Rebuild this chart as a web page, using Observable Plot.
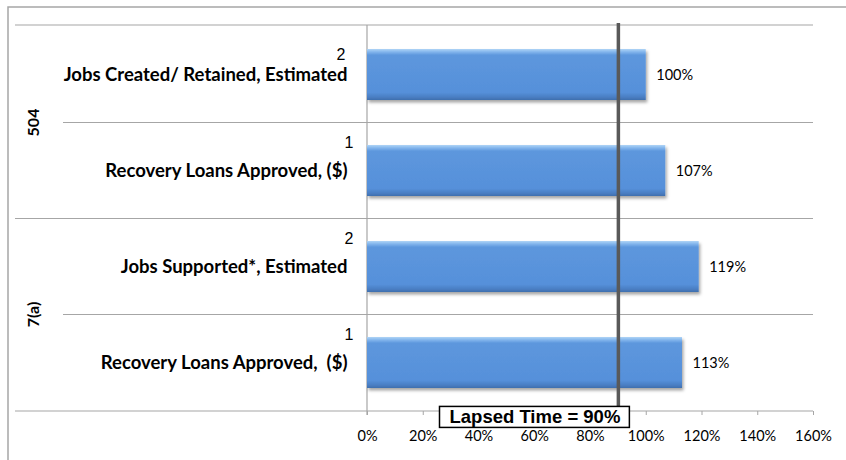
<!DOCTYPE html>
<html><head><meta charset="utf-8">
<script src="https://cdn.jsdelivr.net/npm/d3@7"></script>
<script src="https://cdn.jsdelivr.net/npm/@observablehq/plot@0.6"></script>
<style>body{margin:0;background:#fff} svg{display:block}</style>
</head><body><div id="chart"></div>
<script>
// ---- data ----
const rowIds = ["504-2", "504-1", "7a-2", "7a-1"];
const groups = ["504", "504", "7(a)", "7(a)"];
const groupNames = ["504", "7(a)"];
const labels = ["Jobs Created/ Retained, Estimated", "Recovery Loans Approved, ($)", "Jobs Supported*, Estimated", "Recovery Loans Approved,  ($)"];
const notes = ["2", "1", "2", "1"];
const values = [1.00, 1.07, 1.19, 1.13];
const lapsedTime = 0.90;
const lapsedLabel = "Lapsed Time = 90%";
const xTicks = [0, 0.2, 0.4, 0.6, 0.8, 1.0, 1.2, 1.4, 1.6];

const rows = rowIds.map((id, i) => ({id, group: groups[i], label: labels[i], note: notes[i], value: values[i]}));
const pct = d3.format(".0%");
const gridColor = "#a6a6a6";

function chrome(index, scales, vals, dim) {
  const y = scales.y;
  const bw = y.bandwidth(), step = y.step();
  const left = dim.marginLeft, right = dim.width - dim.marginRight;
  const top = dim.marginTop, bottom = dim.height - dim.marginBottom;
  const g = d3.create("svg:g");
  // outer frame
  g.append("path").attr("d", `M8,${dim.height}V7H${dim.width}`).attr("fill", "none").attr("stroke", gridColor).attr("stroke-width", 1.5);
  const line = (x1, yy) => g.append("line").attr("x1", x1).attr("x2", right).attr("y1", yy).attr("y2", yy).attr("stroke", gridColor).attr("stroke-width", 1.2);
  line(15, top);
  line(15, bottom);
  rows.forEach((r, i) => {
    if (i === rows.length - 1) return;
    const yb = y(r.id) + bw / 2 + step / 2;
    line(rows[i + 1].group !== r.group ? 15 : 63, yb);
  });
  // value axis line
  g.append("line").attr("x1", left).attr("x2", left).attr("y1", top).attr("y2", bottom + 4).attr("stroke", gridColor).attr("stroke-width", 1.2);
  // group labels
  groupNames.forEach(name => {
    const cs = rows.filter(r => r.group === name).map(r => y(r.id) + bw / 2);
    const cy = d3.mean(cs);
    g.append("text").attr("transform", `translate(33,${cy}) rotate(-90)`)
      .attr("text-anchor", "middle").attr("dy", "0.35em")
      .attr("font-weight", "bold").attr("font-size", 16).attr("fill", "#000")
      .text(name);
  });
  return g.node();
}

const plot = Plot.plot({
  width: 846, height: 460,
  marginLeft: 367, marginRight: 33, marginTop: 25, marginBottom: 49,
  style: {fontFamily: "Lato, sans-serif", fontSize: "14.5px", color: "#000", background: "#fff"},
  x: {domain: [0, 1.6], ticks: xTicks, tickFormat: pct, tickSize: 4, tickPadding: 15, label: null},
  y: {domain: rowIds, paddingInner: 0.47, paddingOuter: 0.235, axis: null},
  marks: [
    chrome,
    Plot.barX(rows, {x: "value", y: "id", fill: "url(#barGrad)"}),
    Plot.text(rows, {x: "value", y: "id", text: d => pct(d.value), textAnchor: "start", dx: 10, fontSize: 14.5, fill: "#000"}),
    Plot.text(rows, {y: "id", text: "label", frameAnchor: "left", textAnchor: "end", dx: -20, fontWeight: "bold", fontSize: 18.5, fill: "#000"}),
    Plot.text(rows.slice(0, 1), {y: "id", text: "note", frameAnchor: "left", textAnchor: "end", dx: -22, dy: -20, fontFamily: "Liberation Sans, Arial, sans-serif", fontSize: 16, fill: "#000"}),
    Plot.text(rows.slice(1), {y: "id", text: "note", frameAnchor: "left", textAnchor: "end", dx: -14, dy: -28, fontFamily: "Liberation Sans, Arial, sans-serif", fontSize: 16, fill: "#000"}),
    Plot.ruleX([lapsedTime], {stroke: "#595959", strokeWidth: 3.5, insetTop: -2}),
    Plot.text([lapsedTime], {x: d => d, frameAnchor: "bottom", lineAnchor: "middle", text: () => lapsedLabel, textAnchor: "end", dx: 2, dy: 6, fontWeight: "bold", fontSize: 18.5, fontFamily: "Liberation Sans, Arial, sans-serif", fill: "#000"})
  ]
});

document.getElementById("chart").appendChild(plot);
const svg = plot.tagName.toLowerCase() === "svg" ? plot : plot.querySelector("svg");
svg.insertAdjacentHTML("afterbegin", `<defs>
  <linearGradient id="barGrad" x1="0" y1="0" x2="0" y2="1">
    <stop offset="0" stop-color="#b0d4f6"/>
    <stop offset="0.06" stop-color="#80b4ec"/>
    <stop offset="0.12" stop-color="#5d97dd"/>
    <stop offset="0.85" stop-color="#5690da"/>
    <stop offset="0.94" stop-color="#4a7fc4"/>
    <stop offset="1" stop-color="#3f6fae"/>
  </linearGradient>
  <filter id="barShadow" x="-5%" y="-20%" width="115%" height="160%">
    <feDropShadow dx="1.5" dy="2.5" stdDeviation="1.5" flood-color="#000" flood-opacity="0.35"/>
  </filter>
</defs>`);
svg.querySelectorAll('g[aria-label="bar"]').forEach(g => g.setAttribute("filter", "url(#barShadow)"));
// axis tick colors
svg.querySelectorAll('g[aria-label="x-axis tick"] path, g[aria-label="x-axis tick"]').forEach(e => e.setAttribute("stroke", gridColor));
// box around lapsed label
svg.querySelectorAll("text").forEach(t => {
  if (t.textContent === lapsedLabel) {
    const b = t.getBBox();
    const r = document.createElementNS("http://www.w3.org/2000/svg", "rect");
    r.setAttribute("x", b.x - 10); r.setAttribute("y", b.y);
    r.setAttribute("width", b.width + 19); r.setAttribute("height", b.height);
    r.setAttribute("fill", "#fff"); r.setAttribute("stroke", "#000"); r.setAttribute("stroke-width", 1.5);
    const tr = t.getAttribute("transform");
    if (tr) r.setAttribute("transform", tr);
    t.parentNode.insertBefore(r, t);
  }
});
</script>
</body></html>
